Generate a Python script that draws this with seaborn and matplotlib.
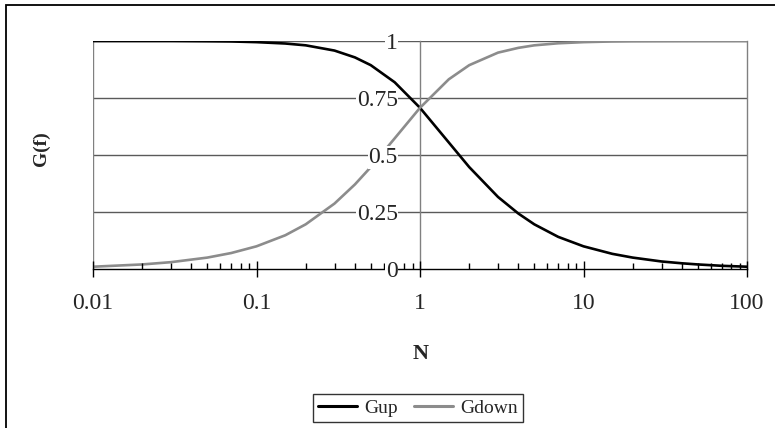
import numpy as np
import pandas as pd
import matplotlib
matplotlib.use("Agg")
import matplotlib.pyplot as plt
import seaborn as sns
from matplotlib.patches import Rectangle
from matplotlib.lines import Line2D
from matplotlib.ticker import LogLocator, FixedLocator, NullFormatter

# ---- data ----
N = [0.01, 0.02, 0.03, 0.05, 0.07, 0.1, 0.15, 0.2, 0.3, 0.4, 0.5, 0.7, 1.0,
     1.5, 2, 3, 4, 5, 7, 10, 15, 20, 30, 40, 50, 70, 100]
gup = [1.0, 1.0, 1.0, 0.999, 0.998, 0.995, 0.989, 0.981, 0.958, 0.928, 0.894,
       0.819, 0.707, 0.555, 0.447, 0.316, 0.243, 0.196, 0.141, 0.0995, 0.0665,
       0.05, 0.033, 0.025, 0.02, 0.014, 0.01]
gdown = [0.01, 0.02, 0.03, 0.05, 0.07, 0.0995, 0.148, 0.196, 0.287, 0.371,
         0.447, 0.573, 0.707, 0.832, 0.894, 0.949, 0.970, 0.981, 0.990, 0.995,
         0.998, 0.999, 0.9994, 0.9997, 0.9998, 0.9999, 1.0]
series_names = ["Gup", "Gdown"]
y_ticks = [0, 0.25, 0.5, 0.75, 1]
y_tick_labels = ["0", "0.25", "0.5", "0.75", "1"]
x_ticks = [0.01, 0.1, 1, 10, 100]
x_tick_labels = ["0.01", "0.1", "1", "10", "100"]

df = pd.DataFrame({
    "N": N * 2,
    "G": gup + gdown,
    "series": [series_names[0]] * len(N) + [series_names[1]] * len(N),
})

sns.set_style("white")
plt.rcParams["font.family"] = ["Liberation Serif", "DejaVu Serif"]

W, H = 775, 428
fig = plt.figure(figsize=(W / 100, H / 100), dpi=100)
ax = fig.add_axes([93 / W, 1 - 269 / H, (747 - 93) / W, (269 - 41) / H])

palette = {"Gup": "black", "Gdown": "#8c8c8c"}
sns.lineplot(data=df, x="N", y="G", hue="series", palette=palette,
             linewidth=1.9, ax=ax, legend=False, zorder=2, sort=False)

ax.set_xscale("log")
ax.set_xlim(0.01, 100)
ax.set_ylim(0, 1)

# horizontal gridlines
for yv in y_ticks[1:]:
    ax.axhline(yv, color="#5a5a5a", linewidth=1.0, zorder=1)
# plot-area left border
ax.axvline(0.01, color="#808080", linewidth=1.0, zorder=1)

# spines
ax.spines["top"].set_visible(False)
ax.spines["right"].set_color("#808080")
ax.spines["right"].set_linewidth(1.0)
ax.spines["left"].set_position(("data", 1))
ax.spines["left"].set_color("#808080")
ax.spines["left"].set_linewidth(1.0)
ax.spines["bottom"].set_color("black")
ax.spines["bottom"].set_linewidth(1.0)
for sp in ax.spines.values():
    sp.set_zorder(1.2)

# x ticks
ax.xaxis.set_major_locator(FixedLocator(x_ticks))
ax.set_xticklabels(x_tick_labels)
ax.xaxis.set_minor_locator(LogLocator(base=10, subs=np.arange(2, 10)))
ax.xaxis.set_minor_formatter(NullFormatter())
ax.tick_params(axis="x", which="both", bottom=True, top=False)
ax.tick_params(axis="x", which="major", direction="inout", length=11,
               width=1.0, color="black", labelsize=17, pad=12)
ax.tick_params(axis="x", which="minor", direction="in", length=4,
               width=1.0, color="black")

# y ticks
ax.set_yticks(y_ticks)
ax.set_yticklabels(y_tick_labels)
ax.tick_params(axis="y", which="major", left=True, length=0, labelsize=17, pad=16)
for lbl in ax.get_yticklabels():
    lbl.set_bbox(dict(facecolor="white", edgecolor="none", pad=0.5))
ax.yaxis.set_zorder(3)
ax.xaxis.set_zorder(3)

ax.set_xlabel("")
ax.set_ylabel("")
fig.text(41 / W, 1 - 149 / H, "G(f)", rotation=90, ha="center", va="center",
         fontsize=14, fontweight="bold")
fig.text(421 / W, 1 - 354 / H, "N", ha="center", va="center",
         fontsize=16, fontweight="bold")

handles = [Line2D([], [], color=palette[s], linewidth=2.2) for s in series_names]
leg = fig.legend(handles, series_names, loc="center",
                 bbox_to_anchor=(418 / W, 1 - 408 / H), ncol=2, frameon=True,
                 fancybox=False, edgecolor="black", fontsize=14,
                 handlelength=2.0, handletextpad=0.4, columnspacing=0.8,
                 borderpad=0.25, borderaxespad=0)
leg.get_frame().set_linewidth(1.0)

# outer chart frame (only top & left edges visible in the reference)
fig.patches.append(Rectangle((6 / W, -0.2), 1.2, (H - 5) / H + 0.2,
                             transform=fig.transFigure, fill=False,
                             edgecolor="black", linewidth=1.3))

fig.savefig("out.png", dpi=100)
